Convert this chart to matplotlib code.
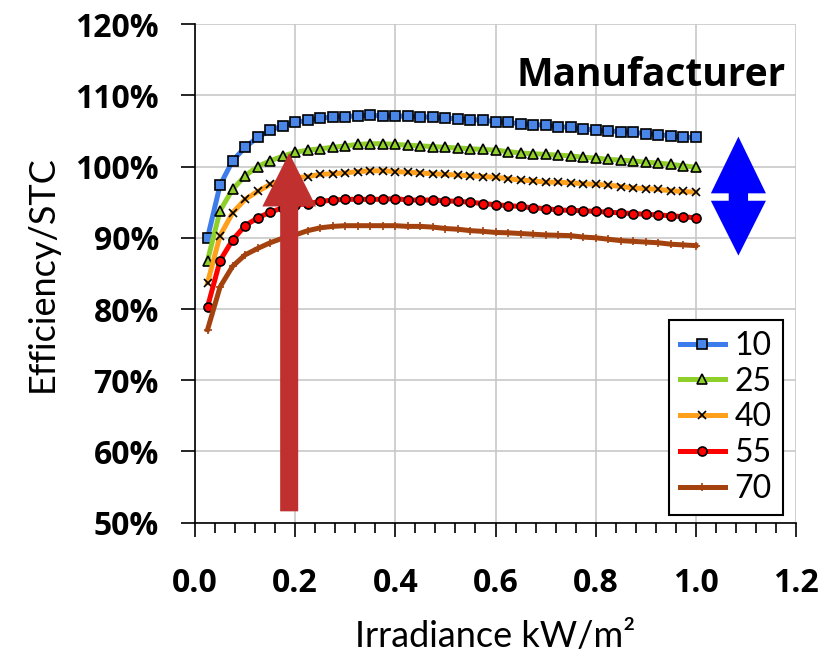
import matplotlib
matplotlib.use("Agg")
import matplotlib.pyplot as plt
from matplotlib.ticker import MultipleLocator, PercentFormatter
from matplotlib.patches import FancyArrow, Polygon

plt.rcParams['font.family'] = ['Lato', 'DejaVu Sans']

# irradiance (kW/m2)
irradiance = [0.025, 0.05, 0.075, 0.1, 0.125, 0.15, 0.175, 0.2, 0.225, 0.25,
              0.275, 0.3, 0.325, 0.35, 0.375, 0.4, 0.425, 0.45, 0.475, 0.5,
              0.525, 0.55, 0.575, 0.6, 0.625, 0.65, 0.675, 0.7, 0.725, 0.75,
              0.775, 0.8, 0.825, 0.85, 0.875, 0.9, 0.925, 0.95, 0.975, 1.0]

# efficiency relative to STC (%), one list per module temperature
eff_10 = [90.0, 97.4, 100.8, 102.7, 104.1, 105.1, 105.7, 106.2, 106.5, 106.8,
          106.95, 107.0, 107.15, 107.2, 107.1, 107.1, 107.05, 107.0, 106.9, 106.8,
          106.7, 106.6, 106.5, 106.3, 106.2, 106.0, 105.9, 105.8, 105.6, 105.5,
          105.3, 105.1, 105.0, 104.9, 104.8, 104.6, 104.5, 104.3, 104.1, 104.1]
eff_25 = [86.8, 93.8, 96.8, 98.7, 100.0, 100.8, 101.45, 102.0, 102.3, 102.5,
          102.7, 102.9, 103.1, 103.2, 103.2, 103.1, 103.0, 102.9, 102.8, 102.7,
          102.6, 102.5, 102.4, 102.3, 102.1, 101.9, 101.8, 101.7, 101.6, 101.5,
          101.3, 101.2, 101.0, 100.9, 100.8, 100.6, 100.5, 100.3, 100.1, 99.9]
eff_40 = [83.7, 90.3, 93.5, 95.4, 96.5, 97.5, 98.0, 98.4, 98.6, 98.9,
          99.0, 99.1, 99.3, 99.4, 99.4, 99.3, 99.2, 99.1, 99.0, 98.9,
          98.8, 98.7, 98.6, 98.5, 98.3, 98.1, 98.0, 97.8, 97.8, 97.7,
          97.6, 97.5, 97.4, 97.2, 97.0, 96.9, 96.8, 96.6, 96.5, 96.4]
eff_55 = [80.3, 86.8, 89.7, 91.7, 92.8, 93.6, 94.2, 94.6, 94.8, 95.1,
          95.3, 95.4, 95.4, 95.4, 95.4, 95.5, 95.3, 95.3, 95.3, 95.2,
          95.1, 95.0, 94.8, 94.65, 94.5, 94.4, 94.2, 94.1, 93.9, 93.85,
          93.8, 93.7, 93.6, 93.5, 93.4, 93.3, 93.2, 93.1, 92.95, 92.8]
eff_70 = [77.1, 83.1, 86.0, 87.6, 88.5, 89.3, 89.95, 90.4, 91.0, 91.4,
          91.6, 91.7, 91.7, 91.7, 91.7, 91.7, 91.6, 91.6, 91.5, 91.3,
          91.2, 91.0, 90.9, 90.75, 90.7, 90.6, 90.5, 90.4, 90.35, 90.3,
          90.1, 90.0, 89.8, 89.6, 89.5, 89.4, 89.3, 89.1, 89.0, 88.9]

labels = ['10', '25', '40', '55', '70']
series = [eff_10, eff_25, eff_40, eff_55, eff_70]
line_colors = ['#3d7deb', '#8fcf2a', '#ffa01c', '#ff0000', '#a3420f']
marker_faces = ['#4a86e8', '#8fcf2a', 'black', '#ff0000', '#a3420f']
markers = ['s', '^', 'x', 'o', '+']
marker_sizes = [7.5, 7.5, 5.5, 6.5, 6]

fig = plt.figure(figsize=(8.37, 6.6), dpi=100)
ax = fig.add_axes([0.233, 0.208, 0.718, 0.7555])

for lab, vals, lc, mf, mk, ms in zip(labels, series, line_colors, marker_faces, markers, marker_sizes):
    if mk in ('x', '+'):
        ec = mf
    else:
        ec = 'black'
    ax.plot(irradiance, vals, color=lc, lw=3.6, marker=mk, ms=ms,
            markerfacecolor=mf, markeredgecolor=ec, markeredgewidth=1.2,
            label=lab, zorder=3)

ax.set_xlim(0, 1.2)
ax.set_ylim(50, 120)
ax.xaxis.set_major_locator(MultipleLocator(0.2))
ax.xaxis.set_minor_locator(MultipleLocator(0.04))
ax.yaxis.set_major_locator(MultipleLocator(10))
ax.xaxis.set_major_formatter(lambda v, p: f"{v:.1f}")
ax.yaxis.set_major_formatter(PercentFormatter(xmax=100, decimals=0))

ax.grid(True, which='major', color='#c8c8c8', lw=1.2, zorder=0)
ax.set_axisbelow(True)
for s in ['top', 'right']:
    ax.spines[s].set_visible(False)
for s in ['left', 'bottom']:
    ax.spines[s].set_linewidth(1.2)

ax.tick_params(axis='both', which='major', direction='out', length=10, width=1.2,
               labelsize=23)
ax.tick_params(axis='x', which='major', pad=22)
ax.tick_params(axis='y', which='major', pad=16)
ax.tick_params(axis='x', which='minor', direction='out', length=7, width=1.2)
for t in ax.get_xticklabels() + ax.get_yticklabels():
    t.set_fontweight('bold')
    t.set_family(['Open Sans', 'DejaVu Sans'])

ax.set_xlabel('Irradiance kW/m²', fontsize=26, labelpad=14)
ax.set_ylabel('Efficiency/STC', fontsize=26, labelpad=12)

ax.text(1.18, 112.8, 'Manufacturer', fontsize=28, fontweight='bold',
        family=['Open Sans', 'DejaVu Sans'], ha='right', va='center', zorder=5)

# red arrow
ax.add_patch(FancyArrow(0.188, 51.6, 0, 50.3, width=0.036, head_width=0.107,
                        head_length=7.5, length_includes_head=True,
                        color='#c0302f', lw=0, zorder=6))

# blue double arrow
cx = 1.085
ax.add_patch(Polygon([(cx, 104.2), (cx + 0.055, 96.24), (cx + 0.0193, 96.24),
                      (cx + 0.0193, 95.2), (cx + 0.055, 95.2), (cx, 87.5),
                      (cx - 0.055, 95.2), (cx - 0.0193, 95.2), (cx - 0.0193, 96.24),
                      (cx - 0.055, 96.24)], closed=True, color='#0000ff', lw=0,
                     zorder=6, clip_on=False))

leg = ax.legend(loc='lower right', bbox_to_anchor=(0.978, 0.0154), fontsize=23,
                numpoints=1, handlelength=1.4, fancybox=False, framealpha=1,
                edgecolor='black', borderpad=0.35, labelspacing=0.18,
                handletextpad=0.3, borderaxespad=0)
leg.get_frame().set_linewidth(1.5)
leg.set_zorder(7)

fig.savefig('out.png', dpi=100)
